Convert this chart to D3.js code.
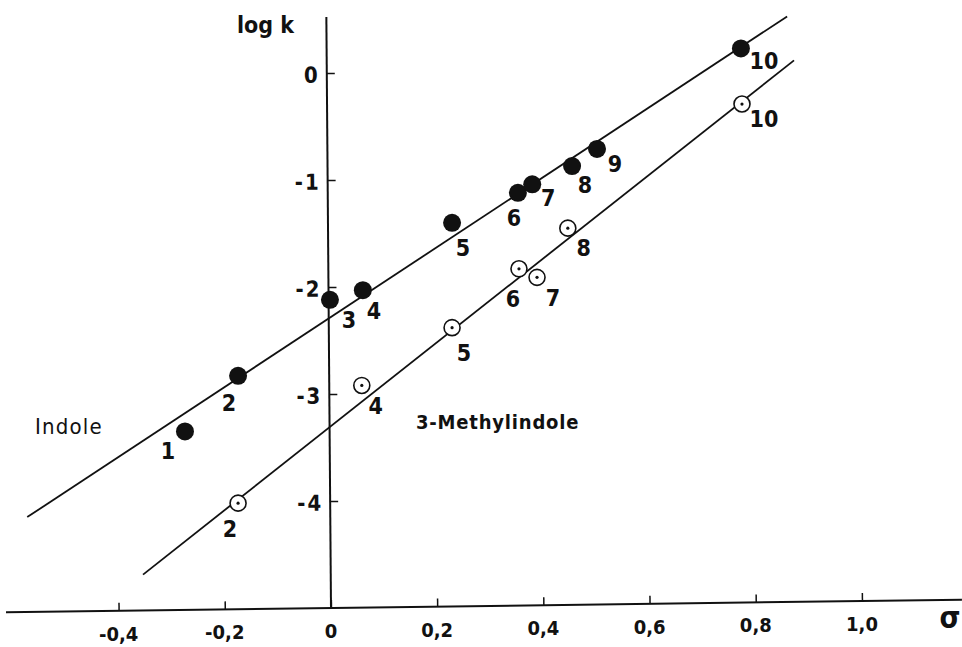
<!DOCTYPE html>
<html><head><meta charset="utf-8">
<script src="https://cdn.jsdelivr.net/npm/d3@7"></script>
<style>
html,body{margin:0;padding:0;background:#fff;}
svg{display:block;}
text{font-family:"Liberation Sans Narrow","Arial Narrow","DejaVu Sans Condensed",sans-serif;fill:#111;}
</style></head>
<body>
<svg id="chart" width="962" height="647"></svg>
<script>
// ---- data ----
const xTicks = [-0.4, -0.2, 0, 0.2, 0.4, 0.6, 0.8, 1.0];
const xTickLabels = ["-0,4", "-0,2", "0", "0,2", "0,4", "0,6", "0,8", "1,0"];
const yTicks = [0, -1, -2, -3, -4];
const yTickLabels = ["0", "-1", "-2", "-3", "-4"];

const indoleIds   = ["1","2","3","4","5","6","7","8","9","10"];
const indoleSigma = [-0.275, -0.175, -0.002, 0.06, 0.228, 0.352, 0.379, 0.454, 0.501, 0.772];
const indoleLogK  = [-3.35, -2.83, -2.12, -2.03, -1.40, -1.12, -1.04, -0.87, -0.71, 0.23];

const methylIds   = ["2","4","5","6","7","8","10"];
const methylSigma = [-0.175, 0.058, 0.228, 0.354, 0.388, 0.446, 0.774];
const methylLogK  = [-4.02, -2.92, -2.38, -1.83, -1.91, -1.45, -0.29];

// regression lines: [intercept, slope], sigma range
const indoleFit = [-2.28, 3.27];
const indoleRange = [-0.572, 0.859];
const methylFit = [-3.30, 3.92];
const methylRange = [-0.354, 0.872];

// ---- layout (label offsets in px) ----
const indoleLabelOff = [[-17,20],[-9,27],[19,20],[11,21],[11,25],[-4,25],[16,14],[13,19],[18,15],[23,13]];
const methylLabelOff = [[-8,26],[14,21],[12,25],[-6,30],[16,21],[16,20],[22,15]];

const svg = d3.select("#chart");
const x = d3.scaleLinear().domain([0, 1]).range([331, 862]);
const y = d3.scaleLinear().domain([0, -5]).range([73, 608]);

// x axis (slightly tilted as in scan)
const gx = svg.append("g").attr("transform", "rotate(-0.75,331,609)");
gx.append("g").attr("transform", `translate(0,${y(-5)})`)
  .call(d3.axisTop(x).tickValues(xTicks).tickSize(8).tickFormat(""))
  .call(g => g.select(".domain").remove())
  .call(g => g.selectAll(".tick line").attr("stroke", "#111").attr("stroke-width", 1.5));
gx.append("line").attr("x1", 6).attr("x2", 962).attr("y1", y(-5)).attr("y2", y(-5))
  .attr("stroke", "#111").attr("stroke-width", 2);
svg.selectAll("text.xl").data(xTicks).join("text").attr("class", "xl")
  .attr("x", d => x(d)).attr("y", d => 631 - (x(d) - 331) * 0.0131)
  .attr("text-anchor", "middle").attr("dominant-baseline", "central")
  .attr("font-size", 20).attr("font-weight", "bold")
  .text((d, i) => xTickLabels[i]);
svg.append("text").attr("x", 950).attr("y", 617).attr("text-anchor", "middle")
  .attr("dominant-baseline", "central").attr("font-size", 30).attr("font-weight", "bold")
  .attr("font-family", "DejaVu Serif").text("σ");

// y axis
const gy = svg.append("g").attr("transform", "rotate(-0.45,331,609)");
gy.append("line").attr("x1", x(0)).attr("x2", x(0)).attr("y1", 17).attr("y2", y(-5))
  .attr("stroke", "#111").attr("stroke-width", 2);
gy.append("g").attr("transform", `translate(${x(0)},0)`)
  .call(d3.axisRight(y).tickValues(yTicks).tickSize(8).tickFormat(""))
  .call(g => g.select(".domain").remove())
  .call(g => g.selectAll(".tick line").attr("stroke", "#111").attr("stroke-width", 1.5));
gy.selectAll("text.yl").data(yTicks).join("text").attr("class", "yl")
  .attr("x", x(0) - 7).attr("y", d => y(d) + 2)
  .attr("text-anchor", "end").attr("dominant-baseline", "central")
  .attr("font-size", 22).attr("font-weight", "bold").attr("letter-spacing", 2)
  .text((d, i) => yTickLabels[i]);
svg.append("text").attr("x", 237).attr("y", 25).attr("dominant-baseline", "central")
  .attr("font-size", 23).attr("font-weight", "bold")
  .attr("font-family", "Liberation Sans, Arial, sans-serif").text("log k");

// regression lines
const line = d3.line().x(d => x(d[0])).y(d => y(d[1]));
function fitPts(fit, r) { return r.map(s => [s, fit[0] + fit[1] * s]); }
svg.append("path").attr("d", line(fitPts(indoleFit, indoleRange)))
  .attr("fill", "none").attr("stroke", "#111").attr("stroke-width", 1.8);
svg.append("path").attr("d", line(fitPts(methylFit, methylRange)))
  .attr("fill", "none").attr("stroke", "#111").attr("stroke-width", 1.8);

// indole points
const ind = indoleIds.map((id, i) => ({id, s: indoleSigma[i], k: indoleLogK[i], o: indoleLabelOff[i]}));
svg.selectAll("circle.ind").data(ind).join("circle").attr("class", "ind")
  .attr("cx", d => x(d.s)).attr("cy", d => y(d.k)).attr("r", 9).attr("fill", "#111");
svg.selectAll("text.indl").data(ind).join("text").attr("class", "indl")
  .attr("x", d => x(d.s) + d.o[0]).attr("y", d => y(d.k) + d.o[1])
  .attr("text-anchor", "middle").attr("dominant-baseline", "central")
  .attr("font-size", 23).attr("font-weight", "bold").text(d => d.id);

// 3-methylindole points
const met = methylIds.map((id, i) => ({id, s: methylSigma[i], k: methylLogK[i], o: methylLabelOff[i]}));
svg.selectAll("circle.met").data(met).join("circle").attr("class", "met")
  .attr("cx", d => x(d.s)).attr("cy", d => y(d.k)).attr("r", 8)
  .attr("fill", "#fff").attr("stroke", "#111").attr("stroke-width", 1.6);
svg.selectAll("circle.metd").data(met).join("circle").attr("class", "metd")
  .attr("cx", d => x(d.s)).attr("cy", d => y(d.k)).attr("r", 1.6).attr("fill", "#111");
svg.selectAll("text.metl").data(met).join("text").attr("class", "metl")
  .attr("x", d => x(d.s) + d.o[0]).attr("y", d => y(d.k) + d.o[1])
  .attr("text-anchor", "middle").attr("dominant-baseline", "central")
  .attr("font-size", 23).attr("font-weight", "bold").text(d => d.id);

// series names
svg.append("text").attr("x", 35).attr("y", 426).attr("dominant-baseline", "central")
  .attr("font-size", 22).attr("font-family", "Liberation Sans, Arial, sans-serif")
  .attr("letter-spacing", 1.2).text("Indole");
svg.append("text").attr("x", 416).attr("y", 422).attr("dominant-baseline", "central")
  .attr("font-size", 20).attr("font-weight", "bold")
  .attr("font-family", "Liberation Sans, Arial, sans-serif")
  .attr("letter-spacing", 0.8).text("3-Methylindole");
</script>
</body></html>
